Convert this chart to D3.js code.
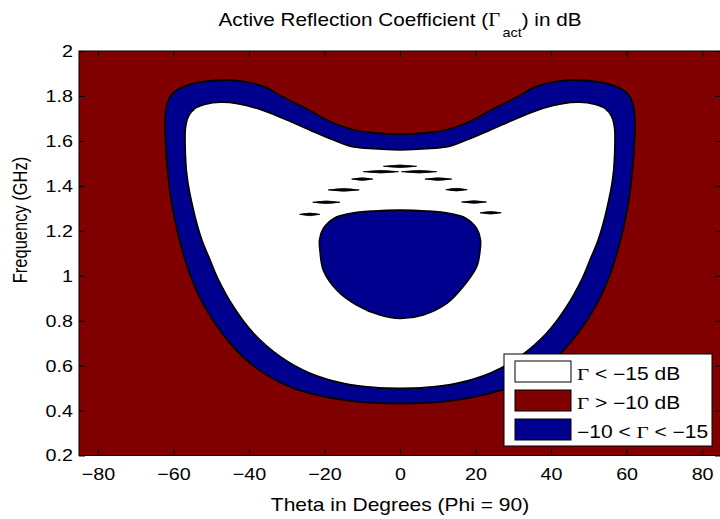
<!DOCTYPE html>
<html><head><meta charset="utf-8">
<script src="https://cdn.jsdelivr.net/npm/d3@7"></script>
<style>
html,body{margin:0;padding:0;background:#fff;}
svg{display:block;}
text{font-family:"Liberation Sans",Arial,Helvetica,sans-serif;fill:#000;}
.sym{font-family:"Liberation Serif","DejaVu Serif",serif;}
</style></head>
<body><svg id="c" width="720" height="519"></svg>
<script>
// ---- data (theta in degrees, frequency in GHz) ----
const xTicks = [-80,-60,-40,-20,0,20,40,60,80];
const xTickLabels = ["\u221280","\u221260","\u221240","\u221220","0","20","40","60","80"];
const yTicks = [0.2,0.4,0.6,0.8,1.0,1.2,1.4,1.6,1.8,2.0];
const yTickLabels = ["0.2","0.4","0.6","0.8","1","1.2","1.4","1.6","1.8","2"];

// outer contour: boundary Gamma = -10 dB (red / blue)
const outerContour = [
 [0,1.630],[7,1.636],[13,1.652],[18.5,1.686],[25,1.745],[31,1.795],[35.5,1.838],[40,1.860],
 [45,1.870],[50,1.868],[54,1.858],[57.5,1.840],[60,1.815],[61.6,1.770],[62.2,1.700],[62.1,1.600],
 [61.6,1.480],[60.8,1.360],[59.4,1.230],[57.6,1.110],[55.5,1.000],[52,0.870],[47.3,0.748],
 [41.8,0.642],[35.5,0.560],[28.3,0.500],[20.3,0.463],[11.5,0.440],[0,0.432],
 [-11.5,0.440],[-20.3,0.463],[-28.3,0.500],[-35.5,0.560],[-41.8,0.642],[-47.3,0.748],[-52,0.870],
 [-55.5,1.000],[-57.6,1.110],[-59.4,1.230],[-60.8,1.360],[-61.6,1.480],[-62.1,1.600],[-62.2,1.700],
 [-61.6,1.770],[-60,1.815],[-57.5,1.840],[-54,1.858],[-50,1.868],[-45,1.870],[-40,1.860],
 [-35.5,1.838],[-31,1.795],[-25,1.745],[-18.5,1.686],[-13,1.652],[-7,1.636]
];
// inner contour: boundary Gamma = -15 dB (blue / white)
const innerContour = [
 [0,1.560],[7,1.565],[13.2,1.577],[17.6,1.604],[23.8,1.648],[30.9,1.700],[37.9,1.745],[43,1.766],
 [47.5,1.772],[51.5,1.763],[54.5,1.742],[56,1.710],[56.8,1.660],[56.9,1.574],[56.4,1.441],
 [54.7,1.292],[52.5,1.160],[50.3,1.070],[48.5,0.996],[44.1,0.862],[38.8,0.744],[31.7,0.640],
 [23.8,0.566],[15,0.521],[7,0.503],[0,0.499],
 [-7,0.503],[-15,0.521],[-23.8,0.566],[-31.7,0.640],[-38.8,0.744],[-44.1,0.862],[-48.5,0.996],
 [-50.3,1.070],[-52.5,1.160],[-54.7,1.292],[-56.4,1.441],[-56.9,1.574],[-56.8,1.660],[-56,1.710],
 [-54.5,1.742],[-51.5,1.763],[-47.5,1.772],[-43,1.766],[-37.9,1.745],[-30.9,1.700],[-23.8,1.648],
 [-17.6,1.604],[-13.2,1.577],[-7,1.565]
];
// central region back above -15 dB
const coreContour = [
 [0,1.292],[7,1.288],[13.2,1.277],[17.5,1.255],[20.3,1.210],[21.3,1.160],[21.2,1.114],[20.3,1.040],
 [16.7,0.951],[12.4,0.877],[6.2,0.826],[0,0.810],[-5.3,0.825],[-11.5,0.870],[-16.7,0.936],
 [-20.3,1.025],[-21.2,1.114],[-21.3,1.160],[-20.3,1.210],[-17.5,1.255],[-13.2,1.277],[-7,1.288]
];
// tiny slivers (theta start, theta end, frequency)
const slivers = [
 [-4.4,4.4,1.487],
 [-9.7,-0.4,1.463],[0.4,9.7,1.463],
 [-12.8,-7.2,1.430],[6.6,13.7,1.430],
 [-19.0,-10.8,1.382],[12.1,17.8,1.383],
 [-23.1,-15.9,1.327],[16.3,22.9,1.328],
 [-26.6,-21.2,1.273],[21.2,26.8,1.280]
];
const legendLabels = [["\u0393"," < \u221215 dB"],["\u0393"," > \u221210 dB"],["\u221210 < ","\u0393"," < \u221215"]];
const legendColors = ["#ffffff","#800000","#00008f"];
const titleParts = ["Active Reflection Coefficient (","\u0393","act",") in dB"];
const xLabel = "Theta in Degrees (Phi = 90)";
const yLabel = "Frequency (GHz)";

// ---- drawing ----
const svg = d3.select("#c");
const L=79, R=721, T=51, B=455.5;
const SX=1.2; // horizontal stretch of the text in the picture
const x = d3.scaleLinear().domain([-85,85]).range([L,R]);
const y = d3.scaleLinear().domain([0.2,2]).range([B,T]);
const RED="#800000", BLUE="#00008f";

svg.append("clipPath").attr("id","pc").append("rect").attr("x",L).attr("y",T).attr("width",R-L).attr("height",B-T);
const g = svg.append("g").attr("clip-path","url(#pc)");
g.append("rect").attr("x",L).attr("y",T).attr("width",R-L).attr("height",B-T).attr("fill",RED);

const line = d3.line().x(d=>x(d[0])).y(d=>y(d[1])).curve(d3.curveCatmullRomClosed.alpha(0.5));
g.append("path").attr("d",line(outerContour)).attr("fill",BLUE).attr("stroke","#000").attr("stroke-width",1.7);
g.append("path").attr("d",line(innerContour)).attr("fill","#fff").attr("stroke","#000").attr("stroke-width",1.7);
g.append("path").attr("d",line(coreContour)).attr("fill",BLUE).attr("stroke","#000").attr("stroke-width",1.7);

g.selectAll("path.sl").data(slivers).join("path").attr("class","sl")
 .attr("d",d=>{const x1=x(d[0]),x2=x(d[1]),yy=y(d[2]),xm=(x1+x2)/2;
   return `M${x1},${yy}Q${xm},${yy-2.6} ${x2},${yy}Q${xm},${yy+2.6} ${x1},${yy}Z`;})
 .attr("fill","#000").attr("stroke","#000").attr("stroke-width",0.8);

// axes
const fs=17;
const TSX=1.16;
const ax = svg.append("g").attr("transform",`translate(0,${B})`)
 .call(d3.axisBottom(x).tickValues(xTicks).tickFormat((d,i)=>xTickLabels[i]).tickSizeInner(-6).tickSizeOuter(0).tickPadding(12));
const ay = svg.append("g").attr("transform",`translate(${L},0)`)
 .call(d3.axisLeft(y).tickValues(yTicks).tickFormat((d,i)=>yTickLabels[i]).tickSizeInner(-6).tickSizeOuter(0).tickPadding(5));
const at = svg.append("g").attr("transform",`translate(0,${T})`)
 .call(d3.axisTop(x).tickValues(xTicks).tickFormat("").tickSizeInner(-6).tickSizeOuter(0));
const ar = svg.append("g").attr("transform",`translate(${R},0)`)
 .call(d3.axisRight(y).tickValues(yTicks).tickFormat("").tickSizeInner(-6).tickSizeOuter(0));
[ax,ay,at,ar].forEach(a=>{a.select(".domain").remove();
  a.selectAll(".tick line").attr("stroke","#000").attr("stroke-width",1);
  a.selectAll("text").attr("font-size",fs).attr("font-family","Liberation Sans, Arial, sans-serif").attr("fill","#000");});
ax.selectAll("text").attr("transform",`scale(${TSX},1)`);
ay.selectAll("text").attr("x",-6/TSX).attr("transform",`scale(${TSX},1)`);
svg.append("rect").attr("x",L).attr("y",T).attr("width",R-L).attr("height",B-T).attr("fill","none").attr("stroke","#000").attr("stroke-width",1);

// title
const tt = svg.append("text").attr("transform",`translate(${(L+R)/2},26) scale(1.15,1)`).attr("text-anchor","middle").attr("font-size",18);
tt.append("tspan").text(titleParts[0]);
tt.append("tspan").attr("class","sym").text(titleParts[1]);
tt.append("tspan").attr("font-size",12.5).attr("dy",11).attr("dx",2).text(titleParts[2]);
tt.append("tspan").attr("dy",-11).text(titleParts[3]);

// axis labels
svg.append("text").attr("transform",`translate(${(L+R)/2},511) scale(${SX},1)`).attr("text-anchor","middle").attr("font-size",17.5).text(xLabel);
svg.append("text").attr("transform",`translate(27,220) scale(${SX},1) rotate(-90)`).attr("text-anchor","middle").attr("font-size",16.5).text(yLabel);

// legend
const lg = svg.append("g");
lg.append("rect").attr("x",504).attr("y",354).attr("width",208).attr("height",92).attr("fill","#fff").attr("stroke","#000").attr("stroke-width",1);
legendLabels.forEach((parts,i)=>{
  const yy = 361 + i*29;
  lg.append("rect").attr("x",515).attr("y",yy).attr("width",56).attr("height",21).attr("fill",legendColors[i]).attr("stroke","#000").attr("stroke-width",1);
  const t = lg.append("text").attr("transform",`translate(577,${yy+18.5}) scale(${SX},1)`).attr("font-size",17.5);
  parts.forEach(p=>{ t.append("tspan").attr("class", p==="\u0393"?"sym":null).text(p); });
});
</script></body></html>
